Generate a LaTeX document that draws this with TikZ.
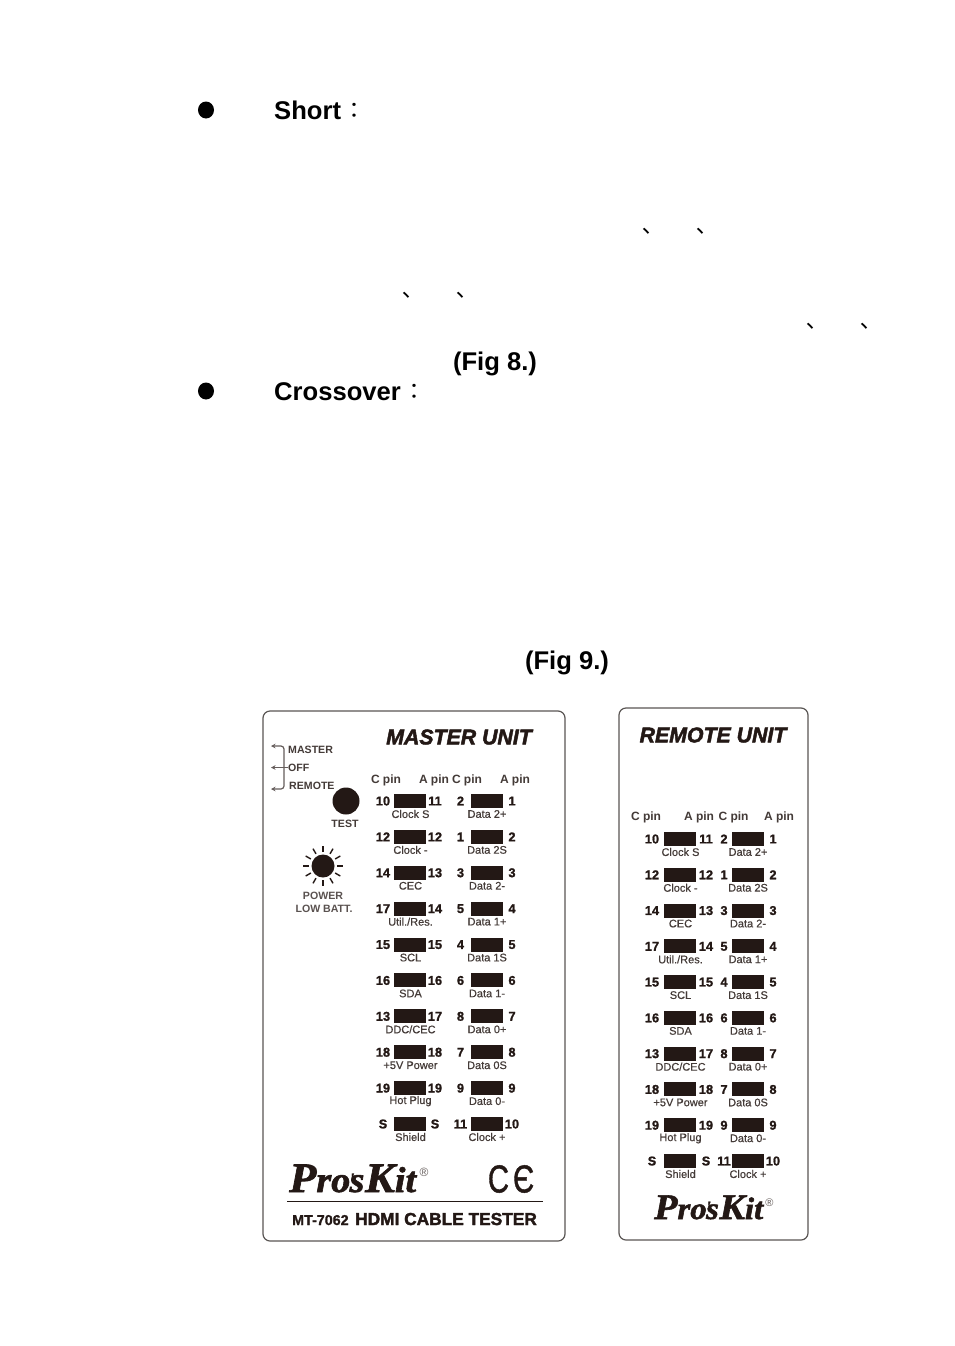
\documentclass[tikz,border=0pt]{standalone}
\usepackage{fontspec}
\setmainfont{Liberation Sans}
\newfontfamily\cjktc{Noto Sans CJK TC}
\newfontfamily\logofont[FakeBold=1.6]{Liberation Serif}
\newfontfamily\heavy[FakeBold=1.2]{Liberation Sans}
\newfontfamily\heavier[FakeBold=2.2]{Liberation Sans}
\newfontfamily\softer[FakeBold=0.5]{Liberation Sans}
\usetikzlibrary{arrows.meta,shapes.geometric,calc}
\definecolor{ink}{HTML}{231815}
\definecolor{frameline}{HTML}{5A5654}
\newcommand{\fsz}[1]{\fontsize{#1}{#1}\selectfont}
\newcommand{\ProLogo}[2]{\scalebox{1.06}[1]{\logofont\bfseries\itshape\fsz{#1}P\fsz{#2}ro\kern-0.02em\raisebox{0.22em}{\fsz{16}\rlap{'}}s\kern0.02em\fsz{#1}K\fsz{#2}it}}
\tikzset{
  heading/.style={inner sep=0pt,font=\fsz{25.6}\bfseries,text=black},
  tick/.style={inner sep=0pt,font=\fsz{22}\cjktc,text=black},
  bulletdot/.style={ellipse,fill=black,minimum width=16pt,minimum height=17pt,inner sep=0pt},
  panel/.style={draw=frameline,line width=1.2pt,rounded corners=7pt,fill=white},
  unittitle/.style={inner sep=0pt,font=\fsz{21.3}\heavier\bfseries\itshape,text=ink},
  pinhead/.style={inner sep=0pt,font=\fsz{12}\bfseries,text=ink!85},
  pinnum/.style={inner sep=0pt,font=\fsz{12.8}\heavy\bfseries,text=ink},
  pinbox/.style={fill=ink,minimum width=32pt,minimum height=14pt,inner sep=0pt},
  pinlabel/.style={inner sep=0pt,font=\fsz{11}\softer,text=ink!85},
  sidelabel/.style={inner sep=0pt,font=\fsz{10.6}\bfseries,text=ink!85},
  switchline/.style={draw=ink!70,line width=1.2pt,rounded corners=3pt},
  logotext/.style={inner sep=0pt,text=ink},
}
\newcommand{\PanelRows}[9]{%
  \foreach \i/\a/\b/\c/\d/\la/\lb in {
    0/10/11/2/1/{Clock S}/{Data 2+},
    1/12/12/1/2/{Clock -}/{Data 2S},
    2/14/13/3/3/{CEC}/{Data 2-},
    3/17/14/5/4/{Util./Res.}/{Data 1+},
    4/15/15/4/5/{SCL}/{Data 1S},
    5/16/16/6/6/{SDA}/{Data 1-},
    6/13/17/8/7/{DDC/CEC}/{Data 0+},
    7/18/18/7/8/{+5V Power}/{Data 0S},
    8/19/19/9/9/{Hot Plug}/{Data 0-},
    9/S/S/11/10/{Shield}/{Clock +}}{
    \pgfmathsetmacro{\yy}{#2+#3*\i}
    \node[pinbox] (#1boxa\i) at (#4,\yy) {};
    \node[pinbox] (#1boxb\i) at (#5,\yy) {};
    \node[pinnum] (#1na\i) at (#6,\yy) {\a};
    \node[pinnum] (#1nb\i) at (#7,\yy) {\b};
    \node[pinnum] (#1nc\i) at (#8,\yy) {\c};
    \node[pinnum] (#1nd\i) at (#9,\yy) {\d};
    \node[pinlabel] (#1la\i) at (#4+0.5,\yy+13) {\la};
    \node[pinlabel] (#1lb\i) at (#5,\yy+13) {\lb};
  }%
}
\begin{document}
\begin{tikzpicture}[x=1pt,y=-1pt]
\useasboundingbox[fill=white] (0,0) rectangle (954,1346);

% page text
\node[bulletdot] (b1) at (206,110) {};
\node[heading,anchor=base west] (short) at (274,119) {Short};
\node[tick] (shortc) at (354,110.5) {：};
\foreach \n/\x/\y in {t1/646/234,t2/700/234,t3/406/298,t4/460/298,t5/810/329,t6/864/329}
  \node[tick] (\n) at (\x,\y) {、};
\node[heading] (fig8) at (495,363.5) {(Fig 8.)};
\node[bulletdot] (b2) at (206,391) {};
\node[heading,anchor=base west] (cross) at (274,400) {Crossover};
\node[tick] (crossc) at (414,391.5) {：};
\node[heading] (fig9) at (567,662.5) {(Fig 9.)};

% panels
\node[panel,minimum width=302pt,minimum height=530pt,inner sep=0pt] (master) at (414,976) {};
\node[panel,minimum width=189pt,minimum height=532pt,inner sep=0pt] (remote) at (713.5,974) {};

\node[unittitle] (mtitle) at (459,737) {MASTER UNIT};
\node[unittitle] (rtitle) at (713,735) {REMOTE UNIT};

% master switch
\node[sidelabel,anchor=west] (smaster) at (288,750) {MASTER};
\node[sidelabel,anchor=west] (soff) at (288,767.5) {OFF};
\node[sidelabel,anchor=west] (sremote) at (289,786) {REMOTE};
\coordinate (sa) at (271,746);
\coordinate (sb) at (271,767.5);
\coordinate (sc) at (271,789);
\coordinate (sj) at (284,767.5);
\draw[switchline,{Stealth[length=4.5pt,width=4.5pt]}-] (sa) -| (sj);
\draw[switchline,{Stealth[length=4.5pt,width=4.5pt]}-] (sb) -- (soff.west);
\draw[switchline,{Stealth[length=4.5pt,width=4.5pt]}-] (sc) -| (sj);

% test button and lamp
\node[circle,fill=ink,minimum size=27pt,inner sep=0pt] (test) at (346,801) {};
\node[sidelabel] (testl) at (345,823.5) {TEST};
\node[circle,fill=ink,minimum size=23pt,inner sep=0pt] (sun) at (323,866) {};
\foreach \ang in {0,30,...,330}
  \draw[ink,line width=1.4pt] ($(sun)+(\ang:14)$) -- ($(sun)+(\ang:20)$);
\node[sidelabel,text=ink!75] (power) at (323,896) {POWER};
\node[sidelabel,text=ink!75] (lowb) at (324,909) {LOW BATT.};

% pin headers
\foreach \n/\x/\t in {a/386/C pin,b/434/A pin,c/467/C pin,d/515/A pin}
  \node[pinhead] (mh\n) at (\x,780) {\t};
\foreach \n/\x/\t in {a/646/C pin,b/699/A pin,c/733.5/C pin,d/779/A pin}
  \node[pinhead] (rh\n) at (\x,817) {\t};

\PanelRows{m}{801}{35.89}{410}{487}{383}{435}{460.5}{512}
\PanelRows{r}{839}{35.78}{680}{748}{652}{706}{724}{773}

% logos
\node[logotext,anchor=base west] (mlogo) at (289,1192) {\ProLogo{42}{36}};
\node[logotext,anchor=center,font=\fsz{12},text=ink!70] (mreg) at (424,1172) {®};
\node[logotext,anchor=base west] (rlogo) at (654,1219) {\ProLogo{36}{31}};
\node[logotext,anchor=center,font=\fsz{11},text=ink!70] (rreg) at (769.5,1203) {®};

% CE mark and model line
\node[logotext,font=\heavy\fsz{39}] (ce) at (511,1179) {\scalebox{0.75}[1]{C}{\kern4pt}\scalebox{0.75}[1]{Є}};
\coordinate (rl) at (287,1201);
\coordinate (rr) at (543,1201);
\draw[ink,line width=1pt] (rl) -- (rr);
\node[logotext,anchor=base west,font=\heavy\fsz{14.3}\bfseries] (model) at (292,1225) {MT-7062};
\node[logotext,anchor=base west,font=\heavier\fsz{17.3}\bfseries] (tester) at (355,1225) {HDMI CABLE TESTER};
\end{tikzpicture}
\end{document}
